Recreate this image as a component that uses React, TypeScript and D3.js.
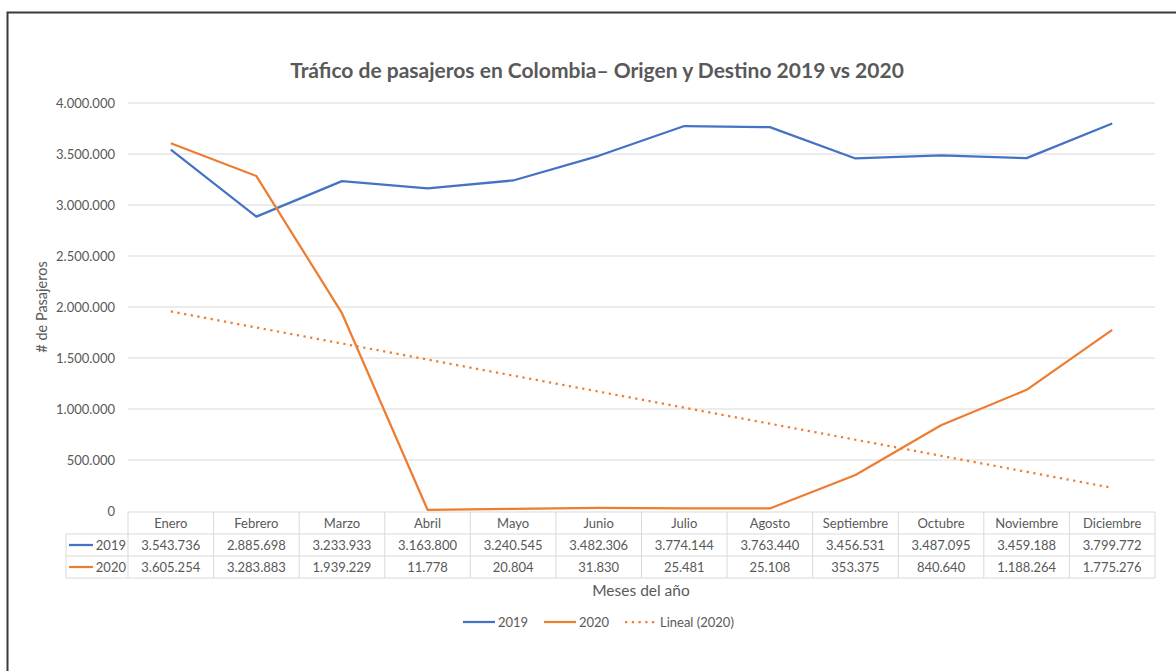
import * as d3 from "d3";

const months = [
  "Enero", "Febrero", "Marzo", "Abril", "Mayo", "Junio",
  "Julio", "Agosto", "Septiembre", "Octubre", "Noviembre", "Diciembre",
];
const values2019 = [
  3543736, 2885698, 3233933, 3163800, 3240545, 3482306,
  3774144, 3763440, 3456531, 3487095, 3459188, 3799772,
];
const values2020 = [
  3605254, 3283883, 1939229, 11778, 20804, 31830,
  25481, 25108, 353375, 840640, 1188264, 1775276,
];
const yTicks = [0, 500000, 1000000, 1500000, 2000000, 2500000, 3000000, 3500000, 4000000];

const W = 1176;
const H = 671;
const PLOT = { left: 128, right: 1155, top: 103, bottom: 511 };
const ROW_H = 22;
const LEGEND_COL_LEFT = 66;
const BLUE = "#4472C4";
const ORANGE = "#ED7D31";
const TEXT = "#595959";
const GRID = "#d9d9d9";
const FONT = "Lato, 'Open Sans', sans-serif";

const fmt = (v: number) => d3.format(",")(v).replace(/,/g, ".");

// linear trendline (least squares) over the 2020 series, like Excel's "Lineal"
function trend(vals: number[]) {
  const xs = vals.map((_, i) => i + 1);
  const mx = d3.mean(xs)!;
  const my = d3.mean(vals)!;
  const sxy = d3.sum(xs, (x, i) => (x - mx) * (vals[i] - my));
  const sxx = d3.sum(xs, (x) => (x - mx) ** 2);
  const slope = sxy / sxx;
  return xs.map((x) => my + slope * (x - mx));
}

export default function App() {
  const x = d3.scaleBand().domain(months).range([PLOT.left, PLOT.right]);
  const y = d3.scaleLinear().domain([0, 4000000]).range([PLOT.bottom, PLOT.top]);
  const cx = (m: string) => x(m)! + x.bandwidth() / 2;

  const line = d3
    .line<number>()
    .x((_, i) => cx(months[i]))
    .y((d) => y(d));

  const trendVals = trend(values2020);
  const tableTop = PLOT.bottom + 1;
  const tableBottom = tableTop + ROW_H * 3;

  const rows = [
    { label: "2019", color: BLUE, vals: values2019 },
    { label: "2020", color: ORANGE, vals: values2020 },
  ];

  return (
    <svg
      width={W}
      height={H}
      style={{ position: "absolute", left: 0, top: 0, background: "#fff" }}
      fontFamily={FONT}
    >
      <rect x={0} y={0} width={W} height={H} fill="#fff" />
      {/* outer frame */}
      <path d={`M7.5,${H} V12.5 H${W}`} fill="none" stroke="#3a3a3a" strokeWidth={2} />

      <text
        x={597}
        y={78}
        textAnchor="middle"
        fontSize={21}
        fontWeight="bold"
        fill={TEXT}
      >
        Tráfico de pasajeros en Colombia– Origen y Destino 2019 vs 2020
      </text>

      {/* gridlines and y labels */}
      {yTicks.map((t) => (
        <g key={t}>
          {t > 0 && (
            <line x1={PLOT.left} x2={PLOT.right} y1={y(t)} y2={y(t)} stroke={GRID} strokeWidth={1} />
          )}
          <text x={115} y={y(t)} dy="0.35em" textAnchor="end" fontSize={13} fill={TEXT}>
            {fmt(t)}
          </text>
        </g>
      ))}

      <text
        transform={`translate(47,${(PLOT.top + PLOT.bottom) / 2}) rotate(-90)`}
        textAnchor="middle"
        fontSize={14.5}
        fill={TEXT}
      >
        # de Pasajeros
      </text>

      {/* data table */}
      <g stroke={GRID} strokeWidth={1} fill="none">
        <line x1={PLOT.left} x2={PLOT.right} y1={tableTop} y2={tableTop} />
        <line x1={LEGEND_COL_LEFT} x2={PLOT.right} y1={tableTop + ROW_H} y2={tableTop + ROW_H} />
        <line x1={LEGEND_COL_LEFT} x2={PLOT.right} y1={tableTop + ROW_H * 2} y2={tableTop + ROW_H * 2} />
        <line x1={LEGEND_COL_LEFT} x2={PLOT.right} y1={tableBottom} y2={tableBottom} />
        <line x1={LEGEND_COL_LEFT} x2={LEGEND_COL_LEFT} y1={tableTop + ROW_H} y2={tableBottom} />
        {months.map((m) => (
          <line key={m} x1={x(m)!} x2={x(m)!} y1={tableTop} y2={tableBottom} />
        ))}
        <line x1={PLOT.right} x2={PLOT.right} y1={tableTop} y2={tableBottom} />
      </g>
      {months.map((m) => (
        <text key={m} x={cx(m)} y={tableTop + ROW_H / 2} dy="0.35em" textAnchor="middle" fontSize={13} fill={TEXT}>
          {m}
        </text>
      ))}
      {rows.map((r, ri) => {
        const ry = tableTop + ROW_H * (ri + 1) + ROW_H / 2;
        return (
          <g key={r.label}>
            <line x1={LEGEND_COL_LEFT + 3} x2={LEGEND_COL_LEFT + 27} y1={ry} y2={ry} stroke={r.color} strokeWidth={2.25} />
            <text x={PLOT.left - 2} y={ry} dy="0.35em" textAnchor="end" fontSize={13} fill={TEXT}>
              {r.label}
            </text>
            {r.vals.map((v, i) => (
              <text key={i} x={cx(months[i])} y={ry} dy="0.35em" textAnchor="middle" fontSize={13} fill={TEXT}>
                {fmt(v)}
              </text>
            ))}
          </g>
        );
      })}

      {/* series */}
      <path
        d={line(trendVals)!}
        fill="none"
        stroke={ORANGE}
        strokeWidth={2.25}
        strokeDasharray="2.25 4.5"
      />
      <path d={line(values2019)!} fill="none" stroke={BLUE} strokeWidth={2.25} strokeLinejoin="round" />
      <path d={line(values2020)!} fill="none" stroke={ORANGE} strokeWidth={2.25} strokeLinejoin="round" />

      <text x={641} y={591} dy="0.35em" textAnchor="middle" fontSize={15.5} fill={TEXT}>
        Meses del año
      </text>

      {/* legend */}
      {[
        { label: "2019", color: BLUE, x0: 463, dash: undefined },
        { label: "2020", color: ORANGE, x0: 544, dash: undefined },
        { label: "Lineal (2020)", color: ORANGE, x0: 625, dash: "2.25 4.5" },
      ].map((l) => (
        <g key={l.label}>
          <line x1={l.x0} x2={l.x0 + 32} y1={622} y2={622} stroke={l.color} strokeWidth={2.25} strokeDasharray={l.dash} />
          <text x={l.x0 + 35} y={622} dy="0.35em" fontSize={13} fill={TEXT}>
            {l.label}
          </text>
        </g>
      ))}
    </svg>
  );
}
